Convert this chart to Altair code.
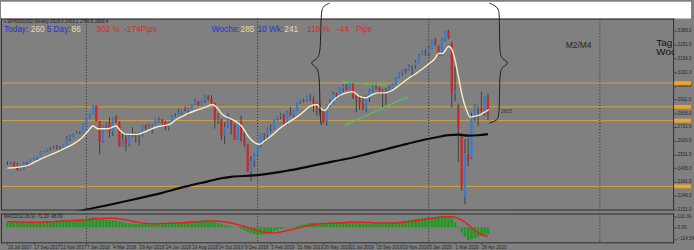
import altair as alt
import pandas as pd

# ---------------- data (week index 0 = week of 23 Jul 2017) ----------------
opens = [2473, 2472, 2477, 2441, 2426, 2443, 2474, 2461, 2500, 2502,
         2519, 2549, 2553, 2575, 2581, 2588, 2582, 2579, 2602, 2642,
         2652, 2676, 2683, 2674, 2743, 2786, 2810, 2867, 2762, 2620,
         2732, 2747, 2691, 2787, 2752, 2588, 2641, 2604, 2656, 2675,
         2670, 2663, 2728, 2713, 2721, 2735, 2779, 2772, 2755, 2718,
         2760, 2801, 2802, 2819, 2840, 2833, 2850, 2875, 2897, 2872,
         2905, 2930, 2914, 2886, 2767, 2768, 2659, 2723, 2773, 2736,
         2633, 2760, 2633, 2600, 2417, 2486, 2532, 2596, 2671, 2665,
         2707, 2708, 2776, 2793, 2804, 2743, 2822, 2801, 2834, 2893,
         2907, 2905, 2940, 2908, 2881, 2860, 2826, 2752, 2873, 2887,
         2950, 2942, 2990, 3014, 2977, 3026, 2932, 2919, 2889, 2847,
         2926, 2979, 3007, 2992, 2962, 2952, 2970, 2986, 3023, 3067,
         3093, 3120, 3110, 3141, 3146, 3169, 3221, 3240, 3235, 3265,
         3330, 3282, 3226, 3328, 3380, 3300, 2954, 2864, 2660, 2235,
         2530, 2510, 2800, 2846, 2854, 2815, 2929]
highs = [2484, 2480, 2480, 2474, 2454, 2480, 2477, 2500, 2508, 2520,
         2552, 2557, 2575, 2584, 2589, 2597, 2590, 2605, 2657, 2665,
         2680, 2695, 2692, 2745, 2790, 2812, 2873, 2870, 2763, 2734,
         2755, 2790, 2787, 2802, 2761, 2675, 2673, 2675, 2718, 2684,
         2683, 2733, 2742, 2743, 2742, 2780, 2791, 2775, 2765, 2760,
         2805, 2816, 2848, 2841, 2863, 2854, 2877, 2916, 2900, 2906,
         2941, 2940, 2940, 2889, 2816, 2779, 2754, 2816, 2775, 2747,
         2762, 2800, 2685, 2601, 2520, 2539, 2598, 2675, 2681, 2718,
         2738, 2776, 2794, 2817, 2816, 2831, 2861, 2835, 2894, 2910,
         2918, 2940, 2954, 2932, 2892, 2875, 2841, 2875, 2911, 2964,
         2959, 2996, 3018, 3017, 3028, 3028, 2944, 2943, 2939, 2940,
         2985, 3021, 3022, 3000, 2983, 2993, 3008, 3027, 3067, 3098,
         3121, 3127, 3155, 3150, 3183, 3226, 3248, 3259, 3282, 3330,
         3338, 3285, 3337, 3385, 3393, 3310, 3137, 2882, 2680, 2637,
         2641, 2819, 2880, 2868, 2965, 2932, 2953]
lows = [2459, 2466, 2437, 2417, 2418, 2428, 2446, 2459, 2496, 2493,
        2518, 2544, 2549, 2557, 2571, 2566, 2557, 2577, 2597, 2624,
        2649, 2673, 2672, 2673, 2737, 2778, 2808, 2759, 2533, 2611,
        2696, 2648, 2659, 2750, 2585, 2587, 2554, 2587, 2650, 2612,
        2594, 2655, 2701, 2708, 2676, 2730, 2753, 2742, 2699, 2698,
        2758, 2790, 2800, 2803, 2828, 2802, 2848, 2872, 2864, 2868,
        2887, 2904, 2874, 2710, 2744, 2628, 2603, 2715, 2670, 2631,
        2631, 2621, 2583, 2409, 2347, 2444, 2524, 2580, 2613, 2631,
        2682, 2705, 2765, 2775, 2728, 2734, 2800, 2785, 2830, 2882,
        2892, 2896, 2900, 2825, 2801, 2805, 2750, 2729, 2859, 2884,
        2913, 2938, 2966, 2975, 2976, 2915, 2822, 2840, 2835, 2822,
        2892, 2964, 2978, 2946, 2856, 2874, 2952, 2981, 3014, 3060,
        3075, 3091, 3108, 3070, 3125, 3165, 3218, 3213, 3214, 3260,
        3281, 3214, 3214, 3315, 3328, 2856, 2902, 2479, 2280, 2185,
        2448, 2500, 2761, 2727, 2817, 2798, 2767]
closes = [2472, 2477, 2441, 2426, 2443, 2477, 2461, 2500, 2502, 2519,
          2549, 2553, 2575, 2581, 2588, 2582, 2579, 2602, 2642, 2652,
          2676, 2683, 2674, 2743, 2786, 2810, 2873, 2762, 2620, 2732,
          2747, 2691, 2787, 2752, 2588, 2641, 2604, 2656, 2670, 2670,
          2663, 2728, 2713, 2721, 2735, 2779, 2780, 2755, 2718, 2760,
          2801, 2802, 2819, 2840, 2833, 2850, 2875, 2902, 2872, 2905,
          2930, 2914, 2886, 2767, 2768, 2659, 2723, 2781, 2736, 2633,
          2760, 2633, 2600, 2417, 2486, 2532, 2596, 2671, 2665, 2707,
          2708, 2776, 2793, 2804, 2743, 2822, 2801, 2834, 2893, 2907,
          2905, 2940, 2946, 2881, 2860, 2826, 2752, 2873, 2887, 2950,
          2942, 2990, 3014, 2977, 3026, 2932, 2919, 2889, 2847, 2926,
          2979, 3007, 2992, 2962, 2952, 2970, 2986, 3023, 3067, 3093,
          3120, 3110, 3141, 3146, 3169, 3221, 3240, 3235, 3265, 3330,
          3295, 3226, 3328, 3380, 3338, 2954, 2972, 2711, 2305, 2541,
          2489, 2790, 2875, 2837, 2831, 2930, 2809]

macd_hist = [60, 59, 56, 52, 50, 50,
             49, 51, 53, 55, 58, 60, 62,
             64, 66, 67, 67, 68, 71, 73, 76, 79, 81,
             86, 92, 98, 106, 104,
             92, 86, 82, 76, 74, 70,
             60, 54, 46, 42, 38, 35, 33,
             34, 35, 36, 38, 41, 43, 43, 41,
             42, 45, 48, 51, 54, 55, 57, 61, 65,
             66, 67, 69, 69, 66,
             55, 45, 30, 22, 18, 10,
             -2, -8, -18, -32, -50, -64, -74, -82, -80, -74,
             -64, -53, -42, -31, -22, -14, -7, -1, 5, 12,
             20, 28, 36, 44, 46, 45, 42, 36,
             38, 41, 45, 49, 53, 57, 57, 59,
             54, 49, 44, 39, 39, 41,
             44, 45, 44, 42, 42, 43, 46,
             51, 57, 63, 67, 73, 77, 83, 89, 95, 99,
             103, 108, 111, 109, 111, 115, 114,
             92, 50, 5, -55, -100, -137, -130, -115, -100, -90, -80, -71]
macd_signal = [56, 56, 56, 55, 55, 54, 53, 53, 52, 53, 53, 54, 55,
               56, 58, 60, 62, 64, 66, 67, 69, 71, 73,
               75, 78, 81, 85, 89,
               91, 92, 93, 93, 93, 91,
               88, 83, 77, 70, 63, 56, 50,
               45, 41, 38, 37, 37, 38, 39, 40,
               41, 42, 43, 45, 47, 49, 51, 53, 56,
               58, 60, 62, 64, 65,
               64, 62, 59, 55, 50, 43,
               35, 27, 18, 8, -3, -15, -27, -38, -47, -54,
               -59, -61, -60, -56, -50, -43, -35, -27, -19, -11,
               -3, 6, 14, 21, 27, 32, 36, 38,
               40, 42, 43, 44, 45, 47, 49, 51,
               52, 52, 52, 51, 50, 49,
               47, 45, 44, 43, 43, 43, 44,
               45, 48, 51, 55, 59, 63, 68, 73, 78, 84,
               89, 95, 100, 104, 107, 110, 112,
               110, 104, 92, 74, 52, 25, -5, -33, -58, -78, -91, -96]

white_ma_week = [0, 5.7, 9.6, 14.6, 19.5, 22.5, 24.5, 26, 27.5, 30.5, 33, 34.4, 35.9,
                 39.4, 42.4, 45.3, 49.3, 51.3, 54.3, 57.2, 60.2, 62.2, 63.7, 65.2,
                 67.2, 69.2, 71.1, 73.1, 75.1, 76.6, 78.1, 80.1, 83, 86, 89, 92, 94,
                 95, 96.4, 97.9, 99.9, 102.9, 104.9, 106.9, 108.8, 110.8, 112.8,
                 114.8, 116.8, 118.8, 121.7, 124.7, 127.7, 129.7, 131.2, 132.1,
                 134.1, 135.1, 136.1, 137.1, 138.1, 139.6, 140.6, 142.1, 143.6,
                 144.5, 145.5, 146.3]
white_ma_val = [2436, 2452, 2494, 2544, 2597, 2643, 2693, 2728, 2709, 2709, 2728, 2693, 2670,
                2670, 2693, 2721, 2739, 2773, 2808, 2835, 2858, 2877, 2854, 2810,
                2785, 2762, 2728, 2659, 2613, 2601, 2624, 2659, 2716, 2762, 2808, 2865, 2877,
                2854, 2835, 2877, 2923, 2957, 2964, 2934, 2923, 2945, 2957,
                2957, 2973, 3005, 3055, 3100, 3152, 3190, 3232, 3228,
                3278, 3255, 3175, 3060, 2945, 2831, 2790, 2796, 2805,
                2818, 2830, 2842]

black_ma_week = [20, 23, 30, 39, 47, 54, 61, 65, 68, 75, 80, 85, 90, 95, 100, 105,
                 110, 115, 120, 125, 130, 134, 137, 140, 143, 146]
black_ma_val = [2128, 2145, 2178, 2223, 2265, 2308, 2345, 2366, 2376, 2386, 2400, 2418,
                2440, 2464, 2487, 2510, 2538, 2567, 2596, 2624, 2648, 2665, 2668, 2661,
                2664, 2672]

level_prices = [3025, 2860, 2765, 2310]
separator_weeks = [24, 76, 128, 180]
price_ticks = [3386.0, 3291.0, 3196.0, 3101.0, 3006.0, 2911.0, 2816.0, 2721.0,
               2626.0, 2531.0, 2436.0, 2341.0, 2246.0, 2151.0]
macd_ticks = [110.39, 0.0, -124.54]
date_labels = ["23 Jul 2017", "17 Sep 2017", "12 Nov 2017", "7 Jan 2018", "4 Mar 2018",
               "29 Apr 2018", "24 Jun 2018", "19 Aug 2018", "14 Oct 2018", "9 Dec 2018",
               "3 Feb 2019", "31 Mar 2019", "26 May 2019", "21 Jul 2019", "15 Sep 2019",
               "10 Nov 2019", "5 Jan 2020", "1 Mar 2020", "26 Apr 2020"]
date_label_weeks = [0, 8, 16, 24, 32, 40, 48, 56, 64, 72, 80, 88, 96, 104, 112,
                    120, 128, 136, 144]

trend_id = ["top", "top", "top", "bottom", "bottom", "bottom"]
trend_week = [102.1, 108.8, 114.8, 103.1, 112.0, 121.2]
trend_val = [3033, 3019, 3010, 2739, 2831, 2927]

brace_id = ["L"] * 10 + ["R"] * 12
brace_week = [97.9, 96.0, 95.2, 95.2, 94.0, 91.7, 93.8, 94.9, 94.9, 95.5,
              146.4, 148.2, 149.3, 149.5, 149.5, 150.3, 152.7, 150.3, 149.5, 149.5, 148.8, 146.4]
brace_val = [3578, 3560, 3519, 3230, 3189, 3164, 3140, 3092, 2776, 2734,
             3578, 3562, 3535, 3484, 3230, 3192, 3164, 3137, 3099, 2803, 2765, 2748]

header_text = ["Today:", "260", "5 Day:", "86", "302 %", "-174Pips",
               "Woche:", "285", "10 Wk:", "241", "118 %", "-44", "Pips"]
header_x = [3, 30, 46, 71, 96, 124, 212, 241, 258, 285, 308, 338, 357]
header_color = ["#2433d6", "#e9dca8", "#2433d6", "#e9dca8", "#e5261f", "#e5261f",
                "#2433d6", "#e9dca8", "#2433d6", "#e9dca8", "#e5261f", "#e5261f", "#e5261f"]

# ---------------- styling ----------------
BG = "#808080"
FRAME = "#2e2e2e"
FONT = "Liberation Sans"
W = 677
H_MAIN = 193
H_MACD = 30
X_DOM = [-0.45, 201.05]
Y_DOM = [2143, 3471]
M_DOM = [-170, 144]

xs = alt.Scale(domain=X_DOM, nice=False, zero=False)
ys = alt.Scale(domain=Y_DOM, nice=False, zero=False)
ms = alt.Scale(domain=M_DOM, nice=False, zero=False)

yax = alt.Axis(orient="right", values=price_ticks, format=".1f", title=None,
               labelFontSize=4.6, labelColor="#262626", labelFont=FONT,
               tickSize=2, tickColor="#333333", domain=False, grid=False,
               labelPadding=1, minExtent=17, maxExtent=17)
may = alt.Axis(orient="right", values=macd_ticks, format=".2f", title=None,
               labelFontSize=4.6, labelColor="#262626", labelFont=FONT,
               tickSize=2, tickColor="#333333", domain=False, grid=False,
               labelPadding=1, minExtent=17, maxExtent=17)
label_expr = "[" + ",".join("'" + s + "'" for s in date_labels) + "][round(datum.value/8)]"
mxax = alt.Axis(orient="bottom", values=date_label_weeks, labelExpr=label_expr, title=None,
                labelFontSize=4.6, labelColor="#262626", labelFont=FONT, labelAlign="left",
                labelBaseline="top", labelOverlap=False, labelBound=False, labelFlush=False,
                tickSize=1, tickColor="#333333", domain=False, grid=False, labelPadding=0.5)

candles = pd.DataFrame({"i": list(range(len(closes))), "o": opens, "h": highs,
                        "l": lows, "c": closes})
candles["dir"] = ["up" if c >= o else "down" for o, c in zip(opens, closes)]

one = pd.DataFrame({"a": [0]})


def frame(h):
    """Panel border drawn just inside the plot area."""
    left = alt.Chart(one).mark_rule(color=FRAME, strokeWidth=1).encode(
        x=alt.value(0.5), y=alt.value(0), y2=alt.value(h))
    right = alt.Chart(one).mark_rule(color=FRAME, strokeWidth=1).encode(
        x=alt.value(W - 0.5), y=alt.value(0), y2=alt.value(h))
    top = alt.Chart(one).mark_rule(color=FRAME, strokeWidth=1).encode(
        x=alt.value(0), x2=alt.value(W), y=alt.value(0.5))
    bottom = alt.Chart(one).mark_rule(color=FRAME, strokeWidth=1).encode(
        x=alt.value(0), x2=alt.value(W), y=alt.value(h - 0.5))
    return [left, right, top, bottom]


# ---------------- main panel ----------------
white_band = alt.Chart(one).mark_rect(color="white").encode(
    x=alt.value(0), x2=alt.value(694), y=alt.value(-17), y2=alt.value(0))

levels = alt.Chart(pd.DataFrame({"p": level_prices})).mark_rule(
    color="#d8a23e", strokeWidth=1, clip=True).encode(
    y=alt.Y("p:Q", scale=ys, axis=yax))

level_boxes = alt.Chart(pd.DataFrame({"p": level_prices})).transform_calculate(
    top="datum.p + 13", bot="datum.p - 13").mark_rect(color="#f0a424").encode(
    x=alt.value(677), x2=alt.value(694),
    y=alt.Y("top:Q", scale=ys, axis=yax), y2="bot:Q")

seps = alt.Chart(pd.DataFrame({"w": separator_weeks})).mark_rule(
    color="#262626", strokeWidth=1, strokeDash=[1, 2], clip=True).encode(
    x=alt.X("w:Q", scale=xs, axis=None))

wicks = alt.Chart(candles).mark_rule(color="#3f3f3f", strokeWidth=1, clip=True).encode(
    x=alt.X("i:Q", scale=xs, axis=None),
    y=alt.Y("l:Q", scale=ys, axis=yax), y2="h:Q")

bodies = alt.Chart(candles).mark_bar(size=2.3, clip=True).encode(
    x=alt.X("i:Q", scale=xs, axis=None),
    y=alt.Y("o:Q", scale=ys, axis=yax), y2="c:Q",
    color=alt.Color("dir:N", scale=alt.Scale(domain=["up", "down"],
                                             range=["#3a7ccc", "#c62a2a"]), legend=None))

black_ma = alt.Chart(pd.DataFrame({"w": black_ma_week, "v": black_ma_val})).mark_line(
    color="#0a0a0a", strokeWidth=2.2, clip=True, interpolate="monotone").encode(
    x=alt.X("w:Q", scale=xs, axis=None), y=alt.Y("v:Q", scale=ys, axis=yax))

white_ma = alt.Chart(pd.DataFrame({"w": white_ma_week, "v": white_ma_val})).mark_line(
    color="#f4eccb", strokeWidth=1.4, clip=True, interpolate="monotone").encode(
    x=alt.X("w:Q", scale=xs, axis=None), y=alt.Y("v:Q", scale=ys, axis=yax))

trend_df = pd.DataFrame({"t": trend_id, "w": trend_week, "v": trend_val})
trend_lines = alt.Chart(trend_df).mark_line(color="#5cc05c", strokeWidth=1.1, clip=True).encode(
    x=alt.X("w:Q", scale=xs, axis=None), y=alt.Y("v:Q", scale=ys, axis=yax), detail="t:N")
trend_pts = alt.Chart(trend_df).mark_point(color="#5cc05c", size=8, strokeWidth=0.8,
                                           filled=False, clip=True).encode(
    x=alt.X("w:Q", scale=xs, axis=None), y=alt.Y("v:Q", scale=ys, axis=yax))

brace_df = pd.DataFrame({"b": brace_id, "k": list(range(len(brace_id))),
                         "w": brace_week, "v": brace_val})
braces = alt.Chart(brace_df).mark_line(color="#1e1e1e", strokeWidth=1, clip=False,
                                       interpolate="basis").encode(
    x=alt.X("w:Q", scale=xs, axis=None), y=alt.Y("v:Q", scale=ys, axis=yax),
    detail="b:N", order="k:Q")

hdr_df = pd.DataFrame({"t": header_text, "x": header_x, "c": header_color})
header = alt.Chart(hdr_df).mark_text(align="left", baseline="middle", font=FONT,
                                     fontSize=8.3).encode(
    x=alt.X("x:Q", scale=None), y=alt.value(11), text="t:N",
    color=alt.Color("c:N", scale=None))

title_small = alt.Chart(one).mark_text(
    align="left", baseline="middle", font=FONT, fontSize=4.5, color="#1a1a1a",
    text="\u25be SPX500USD,Weekly  2928.9 2953.2 2766.8 2809.4").encode(
    x=alt.value(3), y=alt.value(3))

m2m4 = alt.Chart(one).mark_text(align="left", baseline="middle", font=FONT, fontSize=8.5,
                                color="#262626", text="M2/M4").encode(
    x=alt.value(568), y=alt.value(27))
tag = alt.Chart(one).mark_text(align="left", baseline="middle", font=FONT, fontSize=10,
                               color="#111111", text="Tag", clip=True).encode(
    x=alt.value(659), y=alt.value(25))
woche = alt.Chart(one).mark_text(align="left", baseline="middle", font=FONT, fontSize=10,
                                 color="#111111", text="Woche", clip=True).encode(
    x=alt.value(659), y=alt.value(33.5))
lbl815 = alt.Chart(one).mark_text(align="left", baseline="middle", font=FONT, fontSize=5,
                                  color="#2e2e2e", text="2815").encode(
    x=alt.value(503), y=alt.value(93))

main = alt.layer(white_band, levels, seps, wicks, bodies, black_ma, white_ma,
                 trend_lines, trend_pts, *frame(H_MAIN), level_boxes, braces, header,
                 title_small, m2m4, tag, woche, lbl815).properties(width=W, height=H_MAIN)

# ---------------- MACD panel ----------------
macd_df = pd.DataFrame({"i": list(range(len(macd_hist))), "h": macd_hist, "s": macd_signal})
hist = alt.Chart(macd_df).mark_bar(size=2.5, color="#1f9a1f", clip=True).encode(
    x=alt.X("i:Q", scale=xs, axis=mxax),
    y=alt.Y("h:Q", scale=ms, axis=may), y2=alt.datum(0))
sig = alt.Chart(macd_df).mark_line(color="#e3211c", strokeWidth=1.5, clip=True).encode(
    x=alt.X("i:Q", scale=xs, axis=mxax), y=alt.Y("s:Q", scale=ms, axis=may))
seps2 = alt.Chart(pd.DataFrame({"w": separator_weeks})).mark_rule(
    color="#262626", strokeWidth=1, strokeDash=[1, 2], clip=True).encode(
    x=alt.X("w:Q", scale=xs, axis=mxax))
macd_lbl = alt.Chart(one).mark_text(align="left", baseline="middle", font=FONT, fontSize=4.5,
                                    color="#1a1a1a", text="MACD(12,26,9) -71.20 -96.09").encode(
    x=alt.value(3), y=alt.value(4))

macd = alt.layer(seps2, hist, sig, *frame(H_MACD), macd_lbl).properties(width=W, height=H_MACD)

chart = alt.vconcat(main, macd, spacing=1).properties(
    padding={"left": 0, "top": 0, "right": 0, "bottom": 0},
    background=BG,
).configure_view(strokeWidth=0, fill=BG)

chart.save("out.html", embed_options={"renderer": "svg", "actions": False})
